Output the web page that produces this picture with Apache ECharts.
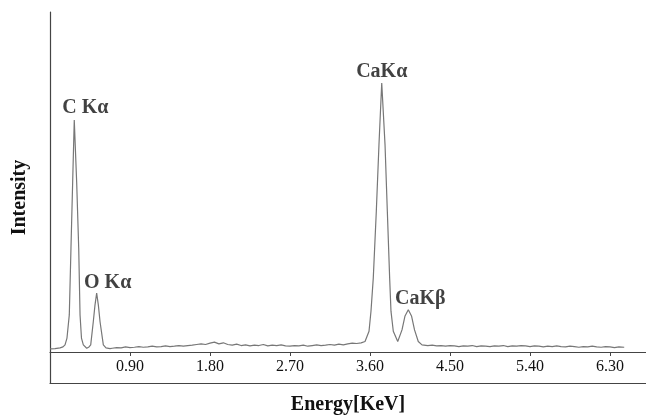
<!DOCTYPE html>
<html>
<head>
<meta charset="utf-8">
<script src="https://cdn.jsdelivr.net/npm/echarts@6/dist/echarts.min.js"></script>
<style>
  html, body { margin: 0; padding: 0; background: #fff; }
  #chart { width: 646px; height: 415px; }
</style>
</head>
<body>
<div id="chart"></div>
<script>
// spectrum: energy (keV) and intensity (0..100 scale)
const energy = [
  0.00, 0.056, 0.113, 0.146, 0.169, 0.191, 0.217, 0.236, 0.255, 0.273,
  0.300, 0.323, 0.338, 0.354, 0.375, 0.413, 0.439, 0.458, 0.487, 0.506,
  0.525, 0.544, 0.563, 0.600, 0.630, 0.675,
  0.70, 0.75, 0.80, 0.85, 0.90, 0.95, 1.00, 1.05, 1.10, 1.15,
  1.20, 1.25, 1.30, 1.35, 1.40, 1.45, 1.50, 1.55, 1.60, 1.65,
  1.70, 1.75, 1.80, 1.85, 1.90, 1.95, 2.00, 2.05, 2.10, 2.15,
  2.20, 2.25, 2.30, 2.35, 2.40, 2.45, 2.50, 2.55, 2.60, 2.65,
  2.70, 2.75, 2.80, 2.85, 2.90, 2.95, 3.00, 3.05, 3.10, 3.15,
  3.20, 3.25, 3.30, 3.35, 3.40, 3.45, 3.50,
  3.544, 3.589, 3.611, 3.637, 3.671, 3.701, 3.732, 3.769, 3.795, 3.821,
  3.836, 3.862, 3.912, 3.960, 3.994, 4.031, 4.067, 4.101, 4.143, 4.185,
  4.25, 4.30, 4.35, 4.40, 4.45, 4.50, 4.55, 4.60, 4.65, 4.70,
  4.75, 4.80, 4.85, 4.90, 4.95, 5.00, 5.05, 5.10, 5.15, 5.20,
  5.25, 5.30, 5.35, 5.40, 5.45, 5.50, 5.55, 5.60, 5.65, 5.70,
  5.75, 5.80, 5.85, 5.90, 5.95, 6.00, 6.05, 6.10, 6.15, 6.20,
  6.25, 6.30, 6.35, 6.40, 6.46
];
const intensity = [
  0.9, 1.0, 1.2, 1.5, 2.1, 4.1, 10.9, 30.6, 50.0, 68.2,
  50.0, 30.6, 10.9, 4.1, 2.1, 1.1, 1.5, 2.1, 8.9, 13.8,
  17.3, 13.8, 8.9, 2.1, 1.2, 1.0,
  1.1, 1.3, 1.2, 1.5, 1.3, 1.4, 1.6, 1.4, 1.5, 1.7,
  1.5, 1.6, 1.8, 1.6, 1.7, 1.9, 1.7, 1.9, 2.0, 2.2,
  2.4, 2.2, 2.6, 2.9, 2.4, 2.7, 2.2, 2.0, 2.3, 1.9,
  2.1, 1.8, 2.0, 1.9, 2.2, 1.8, 2.0, 1.9, 2.1, 1.8,
  1.7, 1.9, 1.8, 2.0, 1.7, 1.9, 2.1, 1.9, 2.0, 2.2,
  2.0, 2.3, 2.1, 2.4, 2.6, 2.5, 2.7,
  3.1, 6.1, 12.0, 21.8, 41.4, 61.0, 79.1, 61.0, 41.4, 21.8,
  12.0, 6.1, 3.1, 6.5, 10.6, 12.4, 10.6, 6.5, 3.1, 2.1,
  1.9, 2.0, 1.8, 1.9, 1.7, 1.9, 1.8, 1.6, 1.8, 1.7,
  1.9, 1.6, 1.8, 1.7, 1.6, 1.8, 1.7, 1.9, 1.6, 1.8,
  1.7, 1.9, 1.8, 1.6, 1.8, 1.7, 1.5, 1.7, 1.6, 1.8,
  1.6, 1.5, 1.7, 1.6, 1.4, 1.6, 1.5, 1.7, 1.5, 1.4,
  1.6, 1.5, 1.3, 1.5, 1.4
];

// peak annotations
const peakNames = ['C K\u03b1', 'O K\u03b1', 'CaK\u03b1', 'CaK\u03b2'];
const peakEnergy = [0.273, 0.525, 3.732, 4.031];
const peakIntensity = [68.2, 17.3, 79.1, 12.4];
const peakOffsets = [[11, 2], [11, 4], [0, 3], [12, 3]];

const tickStep = 0.9;

const chart = echarts.init(document.getElementById('chart'), null, { renderer: 'canvas' });

const spectrum = energy.map((e, i) => [e, intensity[i]]);
const peaks = peakEnergy.map((e, i) => ({
  value: [e, peakIntensity[i]],
  name: peakNames[i],
  label: { offset: peakOffsets[i] }
}));

const serif = 'Liberation Serif';
const ink = '#111';

chart.setOption({
  animation: false,
  grid: { left: 50, right: 0, top: 12, bottom: 32, outerBoundsMode: 'none', containLabel: false },
  xAxis: [
    {
      // energy axis drawn on the zero line, labels sit inside the lower band
      type: 'value',
      min: 0,
      max: 6.705,
      interval: tickStep,
      axisLine: { onZero: true, lineStyle: { color: '#444', width: 1.2 } },
      axisTick: { show: true, length: 4, lineStyle: { color: '#444' } },
      axisLabel: {
        margin: -24,
        color: ink,
        fontFamily: serif,
        fontSize: 16,
        showMinLabel: false,
        formatter: v => {
          const k = v / tickStep;
          return v > 0 && Math.abs(k - Math.round(k)) < 1e-6 ? v.toFixed(2) : '';
        }
      },
      splitLine: { show: false }
    },
    {
      // frame line at the bottom, carries the axis title
      type: 'value',
      min: 0,
      max: 6.705,
      position: 'bottom',
      axisLine: { onZero: false, lineStyle: { color: '#444', width: 1.2 } },
      axisTick: { show: false },
      axisLabel: { show: false },
      splitLine: { show: false },
      name: 'Energy[KeV]',
      nameLocation: 'middle',
      nameGap: 12,
      nameTextStyle: { color: ink, fontFamily: serif, fontSize: 20, fontWeight: 'bold' }
    }
  ],
  yAxis: {
    type: 'value',
    min: -9.12,
    max: 100,
    axisLine: { show: true, onZero: false, lineStyle: { color: '#444', width: 1.2 } },
    axisTick: { show: false },
    axisLabel: { show: false },
    splitLine: { show: false },
    name: 'Intensity',
    nameLocation: 'middle',
    nameGap: 20,
    nameTextStyle: { color: ink, fontFamily: serif, fontSize: 20, fontWeight: 'bold' }
  },
  series: [
    {
      type: 'line',
      data: spectrum,
      symbol: 'none',
      lineStyle: { color: '#777', width: 1.2 }
    },
    {
      type: 'scatter',
      data: peaks,
      symbolSize: 0,
      label: {
        show: true,
        position: 'top',
        distance: 4,
        formatter: p => p.name,
        color: ink,
        fontFamily: serif,
        fontSize: 20,
        fontWeight: 'bold'
      }
    }
  ]
});
</script>
</body>
</html>
